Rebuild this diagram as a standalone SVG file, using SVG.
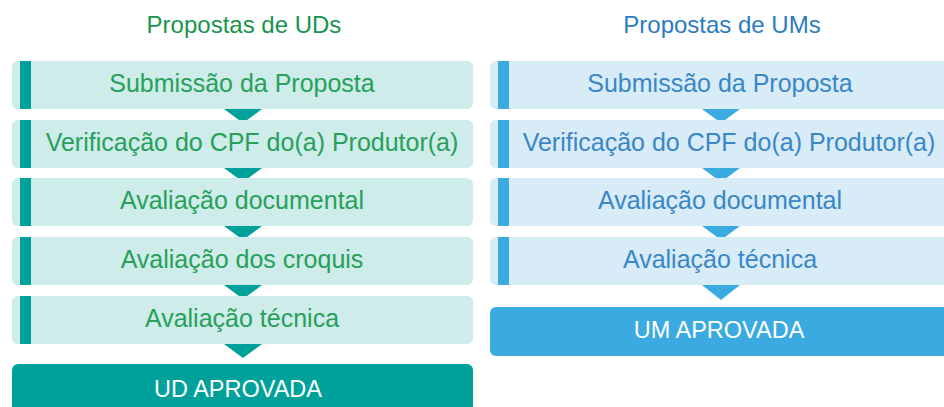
<svg xmlns="http://www.w3.org/2000/svg" width="944" height="407" viewBox="0 0 944 407">
<style>
text{font-family:"Liberation Sans",Arial,sans-serif;text-anchor:middle}
.title{font-size:24px}
.lbl{font-size:25px}
.fin{font-size:23.5px;fill:#ffffff}
.gbox{fill:#cdecea}
.gbar{fill:#00a19a}
.gtxt{fill:#27a05a}
.gtitle{fill:#17944c}
.bbox{fill:#d7ecf7}
.bbar{fill:#3aaae1}
.btxt{fill:#3a86c6}
.btitle{fill:#2b7cc0}
</style>
<rect width="944" height="407" fill="#ffffff"/>
<text class="title gtitle" x="244" y="33">Propostas de UDs</text>
<text class="title btitle" x="722" y="33">Propostas de UMs</text>
<g id="connectors">
<polygon class="gbar" points="224,109 262,109 243,123"/>
<polygon class="gbar" points="224,168 262,168 243,182"/>
<polygon class="gbar" points="224,226 262,226 243,240"/>
<polygon class="gbar" points="224,285 262,285 243,299"/>
<polygon class="gbar" points="224,344 262,344 243,358"/>
<polygon class="bbar" points="702,109 740,109 721,123"/>
<polygon class="bbar" points="702,168 740,168 721,182"/>
<polygon class="bbar" points="702,226 740,226 721,240"/>
<polygon class="bbar" points="702,285 740,285 721,300"/>
</g>
<g id="ud1"><rect class="gbox" x="12" y="61" width="461" height="48" rx="6"/><rect class="gbar" x="20" y="61" width="11" height="48"/><text class="lbl gtxt" x="242" y="92">Submissão da Proposta</text></g>
<g id="ud2"><rect class="gbox" x="12" y="120" width="461" height="48" rx="6"/><rect class="gbar" x="20" y="120" width="11" height="48"/><text class="lbl gtxt" x="252" y="151">Verificação do CPF do(a) Produtor(a)</text></g>
<g id="ud3"><rect class="gbox" x="12" y="178" width="461" height="48" rx="6"/><rect class="gbar" x="20" y="178" width="11" height="48"/><text class="lbl gtxt" x="242" y="209">Avaliação documental</text></g>
<g id="ud4"><rect class="gbox" x="12" y="237" width="461" height="48" rx="6"/><rect class="gbar" x="20" y="237" width="11" height="48"/><text class="lbl gtxt" x="242" y="268">Avaliação dos croquis</text></g>
<g id="ud5"><rect class="gbox" x="12" y="296" width="461" height="48" rx="6"/><rect class="gbar" x="20" y="296" width="11" height="48"/><text class="lbl gtxt" x="242" y="327">Avaliação técnica</text></g>
<g id="ud_ok"><rect class="gbar" x="12" y="364" width="461" height="56" rx="6"/><text class="fin" x="238" y="397">UD APROVADA</text></g>
<g id="um1"><rect class="bbox" x="490" y="61" width="461" height="48" rx="6"/><rect class="bbar" x="498" y="61" width="11" height="48"/><text class="lbl btxt" x="720" y="92">Submissão da Proposta</text></g>
<g id="um2"><rect class="bbox" x="490" y="120" width="461" height="48" rx="6"/><rect class="bbar" x="498" y="120" width="11" height="48"/><text class="lbl btxt" x="729" y="151">Verificação do CPF do(a) Produtor(a)</text></g>
<g id="um3"><rect class="bbox" x="490" y="178" width="461" height="48" rx="6"/><rect class="bbar" x="498" y="178" width="11" height="48"/><text class="lbl btxt" x="720" y="209">Avaliação documental</text></g>
<g id="um4"><rect class="bbox" x="490" y="237" width="461" height="48" rx="6"/><rect class="bbar" x="498" y="237" width="11" height="48"/><text class="lbl btxt" x="720" y="268">Avaliação técnica</text></g>
<g id="um_ok"><rect class="bbar" x="490" y="307" width="461" height="49" rx="6"/><text class="fin" x="719" y="338">UM APROVADA</text></g>
</svg>
